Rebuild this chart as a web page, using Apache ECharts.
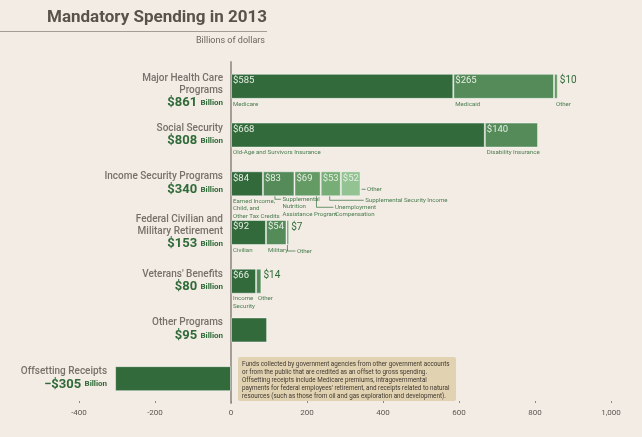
<!DOCTYPE html>
<html>
<head>
<meta charset="utf-8">
<script src="https://cdn.jsdelivr.net/npm/echarts@6/dist/echarts.min.js"></script>
<style>
  html, body { margin: 0; padding: 0; background: #f2ece5; }
  #main { width: 642px; height: 437px; }
</style>
</head>
<body>
<div id="main"></div>
<script>
var categories = [
    'Major Health Care\nPrograms',
    'Social Security',
    'Income Security Programs',
    'Federal Civilian and\nMilitary Retirement',
    "Veterans' Benefits",
    'Other Programs',
    'Offsetting Receipts'
];
var totals = [861, 808, 340, 153, 80, 95, -305];
var segmentValues = [
    [585, 265, 10],
    [668, 140],
    [84, 83, 69, 53, 52],
    [92, 54, 7],
    [66, 14],
    [95],
    [-305]
];
var segmentNames = [
    ['Medicare', 'Medicaid', 'Other'],
    ['Old-Age and Survivors Insurance', 'Disability Insurance'],
    ['Earned Income,\nChild, and\nOther Tax Credits', 'Supplemental\nNutrition\nAssistance Program',
        'Unemployment\nCompensation', 'Supplemental Security Income', 'Other'],
    ['Civilian', 'Military', 'Other'],
    ['Income\nSecurity', 'Other'],
    [],
    []
];
var xMin = -400, xMax = 1000, xStep = 200;
var noteText = 'Funds collected by government agencies from other government accounts\n' +
    'or from the public that are credited as an offset to gross spending.\n' +
    'Offsetting receipts include Medicare premiums, intragovernmental\n' +
    "payments for federal employees' retirement, and receipts related to natural\n" +
    'resources (such as those from oil and gas exploration and development).';

// layout of the leader lines, in pixels (category-segment)
var leaders = {
    '2-1': { dx: 12, dy: 3, len: 6 },
    '2-2': { dx: 22, dy: 11, len: 17 },
    '2-3': { dx: 9, dy: 4, len: 34 },
    '2-4': { atEnd: true, dy: -7, len: 4 },
    '3-2': { dx: 1, dy: 6, len: 8 }
};
// vertical nudge of a category label, in pixels
var labelShift = { 0: 5 };

var FONT = 'Roboto, "Liberation Sans", sans-serif';
var BAR_W = 25;
var GREEN = '#2f6a38';
var NAME_GRAY = '#77716a';
var LABEL_GREEN = '#4a7d4f';
var SEG_COLORS = ['#336a3b', '#548b59', '#649a63', '#77ad77', '#93c293'];
var SUB_LH = 7.4;

var chart = echarts.init(document.getElementById('main'));

function fmt(v) {
    return v.toLocaleString('en-US');
}

var series = [];
for (var k = 0; k < 5; k++) {
    var data = [];
    for (var i = 0; i < categories.length; i++) {
        var v = segmentValues[i][k];
        if (v === undefined) {
            data.push('-');
            continue;
        }
        var item = { value: v };
        if (segmentNames[i].length === 0) {
            item.label = { show: false };
        } else if (v < 20) {
            item.label = {
                show: true,
                position: ['100%', 2],
                offset: [2, 0],
                color: GREEN,
                fontSize: 10
            };
        }
        data.push(item);
    }
    series.push({
        type: 'bar',
        stack: 'total',
        barWidth: BAR_W,
        silent: true,
        data: data,
        itemStyle: {
            color: SEG_COLORS[k],
            borderColor: 'rgba(255,255,255,0.45)',
            borderWidth: 1
        },
        label: {
            show: true,
            position: 'insideTopLeft',
            distance: 2,
            color: '#e6eee3',
            fontFamily: FONT,
            fontSize: 9.5,
            formatter: function(p) {
                return '$' + fmt(p.value);
            }
        }
    });
}

// one item per segment name, plus one per category for its title
var labelData = [];
for (var i = 0; i < categories.length; i++) {
    var start = 0;
    for (var k = 0; k < segmentNames[i].length; k++) {
        var end = start + segmentValues[i][k];
        labelData.push([start, i, end, k]);
        start = end;
    }
    var anchor = Math.min(0, totals[i]);
    labelData.push([anchor, i, anchor, -1]);
}

var richDrawn = {
    n: { fill: NAME_GRAY, fontSize: 10, fontWeight: 500, fontFamily: FONT, lineHeight: 11.5 },
    v: { fill: GREEN, fontSize: 13, fontWeight: 'bold', fontFamily: FONT, lineHeight: 14 },
    u: { fill: GREEN, fontSize: 8, fontWeight: 'bold', fontFamily: FONT, lineHeight: 14 }
};

function subText(name) {
    return {
        text: name,
        fill: LABEL_GREEN,
        font: '6.1px ' + FONT,
        lineHeight: SUB_LH,
        align: 'left',
        verticalAlign: 'top'
    };
}

function renderLabels(params, api) {
    var cat = api.value(1), seg = api.value(3);
    var p0 = api.coord([api.value(0), cat]);
    var p1 = api.coord([api.value(2), cat]);
    var bottom = p0[1] + BAR_W / 2;
    if (seg < 0) {
        var lines = categories[cat].split('\n').map(function(s) { return '{n|' + s + '}'; });
        var total = totals[cat];
        var money = (total < 0 ? '\u2212$' : '$') + fmt(Math.abs(total));
        return {
            type: 'text',
            x: p0[0] - 8,
            y: p0[1] + (labelShift[cat] || 0),
            style: {
                text: lines.join('\n') + '\n{v|' + money + '} {u|Billion}',
                align: 'right',
                verticalAlign: 'middle',
                rich: richDrawn
            }
        };
    }
    var name = segmentNames[cat][seg];
    var lay = leaders[cat + '-' + seg];
    if (!lay) {
        return { type: 'text', x: p0[0] + 2, y: bottom + 1.5, style: subText(name) };
    }
    var lx = lay.atEnd ? p1[0] + 1 : p0[0] + lay.dx;
    var ly = bottom + lay.dy;
    var pts = lay.atEnd ? [[lx, ly], [lx + lay.len, ly]] : [[lx, bottom], [lx, ly], [lx + lay.len, ly]];
    return {
        type: 'group',
        children: [
            { type: 'polyline', shape: { points: pts }, style: { stroke: LABEL_GREEN, lineWidth: 0.8, fill: 'none' } },
            { type: 'text', x: lx + lay.len + 1.5, y: ly - SUB_LH / 2, style: subText(name) }
        ]
    };
}

series.push({
    type: 'custom',
    renderItem: renderLabels,
    data: labelData,
    encode: { x: [0, 2], y: 1 },
    silent: true,
    z: 5
});

var option = {
    backgroundColor: '#f2ece5',
    animation: false,
    textStyle: { fontFamily: FONT },
    grid: { left: 79, right: 31, top: 62, bottom: 34, containLabel: false, outerBoundsMode: 'none' },
    xAxis: {
        type: 'value',
        min: xMin,
        max: xMax,
        interval: xStep,
        splitLine: { show: false },
        axisLine: { lineStyle: { color: '#bcb5ad', width: 2 } },
        axisTick: { show: true, inside: true, length: 2, lineStyle: { color: '#8d8780' } },
        axisLabel: {
            color: '#5b5650',
            fontSize: 8,
            margin: 6,
            formatter: function(v) { return fmt(v); }
        }
    },
    yAxis: {
        type: 'category',
        data: categories,
        inverse: true,
        axisLine: { onZero: true, lineStyle: { color: '#a59e96', width: 2 } },
        axisTick: { show: false },
        axisLabel: { show: false }
    },
    graphic: [
        {
            type: 'text', left: 47, top: 9,
            style: { text: 'Mandatory Spending in 2013', font: 'bold 17px ' + FONT, fill: '#58524a' }
        },
        {
            type: 'line',
            shape: { x1: 0, y1: 31.5, x2: 267, y2: 31.5 },
            style: { stroke: '#a59d93', lineWidth: 1 }
        },
        {
            type: 'text', x: 265, y: 36,
            style: { text: 'Billions of dollars', align: 'right', font: '9px ' + FONT, fill: '#6b655e' }
        },
        {
            type: 'group', left: 238, top: 357,
            children: [
                { type: 'rect', shape: { x: 0, y: 0, width: 218, height: 44, r: 2 }, style: { fill: '#e1d2b1' } },
                {
                    type: 'text', x: 4, y: 3,
                    style: { text: noteText, font: '6.3px ' + FONT, lineHeight: 8.1, fill: '#3e3831' }
                }
            ]
        }
    ],
    series: series
};

chart.setOption(option);
</script>
</body>
</html>
